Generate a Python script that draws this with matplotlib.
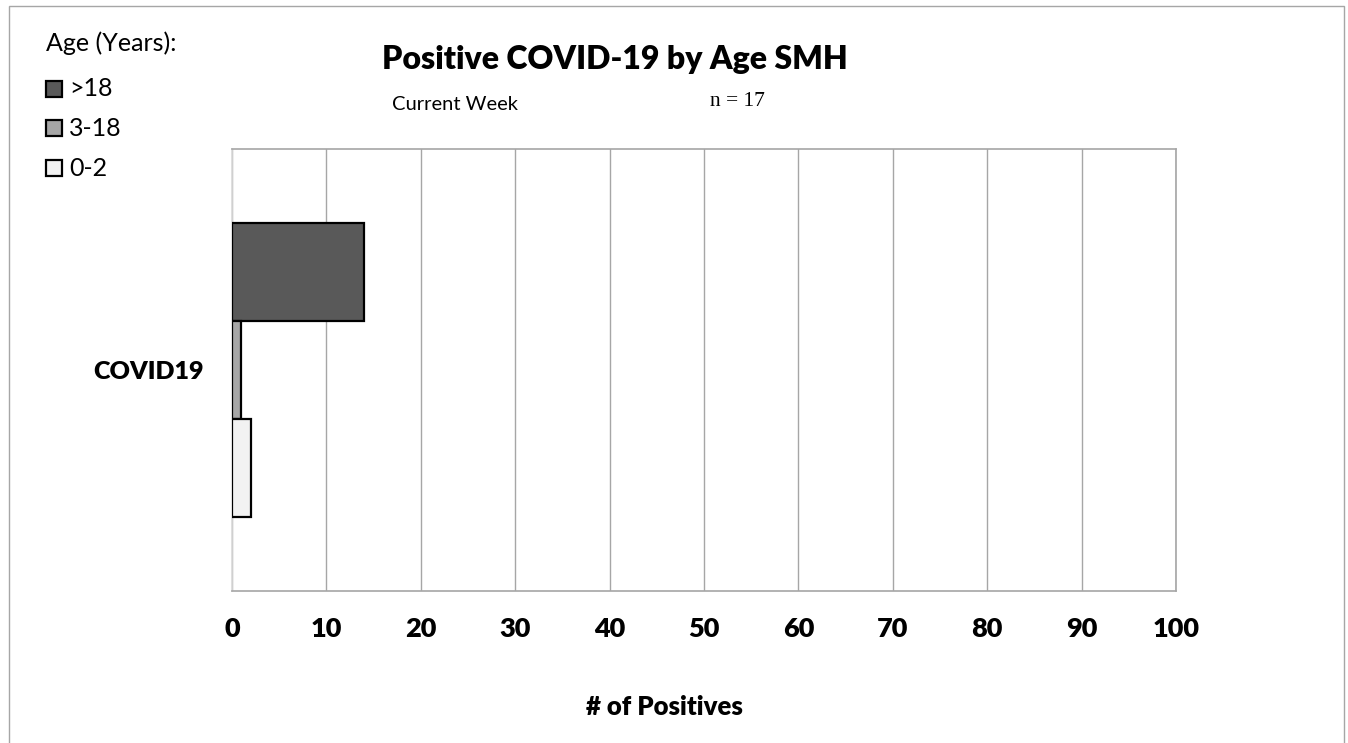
import matplotlib.pyplot as plt
from matplotlib.patches import Rectangle
import numpy as np

# data
category = "COVID19"
groups = [">18", "3-18", "0-2"]
counts = [14, 1, 2]
colors = ["#595959", "#a6a6a6", "#f2f2f2"]
xticks = [0, 10, 20, 30, 40, 50, 60, 70, 80, 90, 100]
n_total = 17

plt.rcParams['font.family'] = ['Lato', 'DejaVu Sans']
BOLD = "heavy"

fig = plt.figure(figsize=(13.48, 7.43), dpi=100)
ax = fig.add_axes([232 / 1348, 1 - 591 / 743, 944 / 1348, 442 / 743])

bar_h = 0.222
offsets = [bar_h, 0.0, -bar_h]
for g, v, c, off in zip(groups, counts, colors, offsets):
    ax.barh(off, v, height=bar_h, color=c, edgecolor="black", linewidth=1.6, zorder=3)

ax.set_xlim(0, 100)
ax.set_ylim(-0.5, 0.5)
ax.set_xticks(xticks)
ax.set_xticklabels([str(t) for t in xticks], fontsize=19.5, fontweight=BOLD)
ax.set_yticks([0])
ax.set_yticklabels([category], fontsize=18, fontweight=BOLD)
ax.tick_params(axis="both", length=0)
ax.tick_params(axis="x", pad=19)
ax.tick_params(axis="y", pad=20)
ax.xaxis.grid(True, color="#a6a6a6", linewidth=1.0, zorder=0)
for side in ["top", "right", "bottom"]:
    ax.spines[side].set_color("#a6a6a6")
    ax.spines[side].set_linewidth(1.2)
ax.spines["left"].set_color("#d9d9d9")
ax.spines["left"].set_linewidth(1.2)

ax.set_xlabel("# of Positives", fontsize=18.5, fontweight=BOLD)
ax.xaxis.set_label_coords((664 - 232) / 944, -(707 - 591) / 442)
ax.xaxis.label.set_va("center")

# title and subtitle
fig.text(615 / 1348, 1 - 60 / 743, "Positive COVID-19 by Age SMH",
         ha="center", va="center", fontsize=23, fontweight=BOLD)
fig.text(455 / 1348, 1 - 104 / 743, "Current Week", ha="center", va="center", fontsize=14.5)
fig.text(737 / 1348, 1 - 101 / 743, f"n = {n_total}", ha="center", va="center",
         fontsize=15.5, family="Liberation Serif")

# legend drawn by hand, top left
fig.text(46 / 1348, 1 - 43 / 743, "Age (Years):", ha="left", va="center", fontsize=18)
ys = [89, 128, 168]
for g, c, y in zip(groups, colors, ys):
    fig.patches.append(Rectangle((46 / 1348, 1 - (y + 8) / 743), 16 / 1348, 16 / 743,
                                 transform=fig.transFigure, facecolor=c,
                                 edgecolor="black", linewidth=1.6))
    fig.text(69 / 1348, 1 - y / 743, g, ha="left", va="center", fontsize=18)

# outer chart border
fig.patches.append(Rectangle((9 / 1348, -0.05), 1335 / 1348, 1.05 - 6 / 743,
                             transform=fig.transFigure, fill=False,
                             edgecolor="#a6a6a6", linewidth=1.0))

fig.savefig("out.png", dpi=100)
